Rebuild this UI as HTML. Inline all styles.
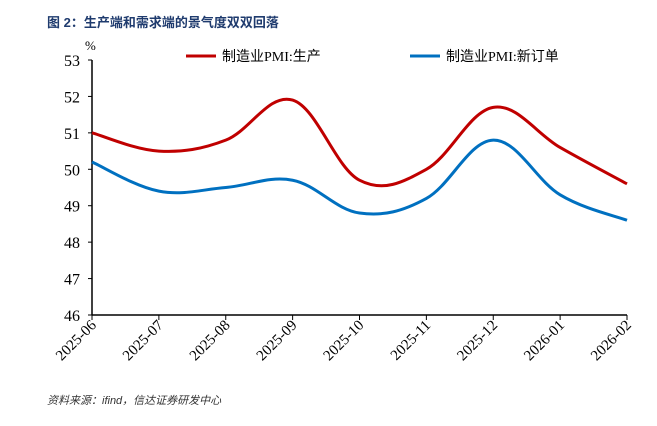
<!DOCTYPE html>
<html><head><meta charset="utf-8"><style>
body{margin:0;background:#fff;width:657px;height:421px;overflow:hidden;font-family:"Liberation Serif","Noto Serif CJK SC",serif}
</style></head><body>
<svg width="657" height="421">
<text x="47" y="27" font-family="'Liberation Sans','Noto Sans CJK SC',sans-serif" font-size="13" font-weight="bold" fill="#1f3b6e">图 2：生产端和需求端的景气度双双回落</text>
<text x="85" y="50" font-size="13" fill="#000">%</text>
<g id="axes"></g>
<g id="series"></g>
<g>
<line x1="186" y1="56" x2="216" y2="56" stroke="#c00000" stroke-width="3"/>
<text x="222" y="61" font-size="14" font-family="'Liberation Serif','Noto Sans CJK SC',serif">制造业PMI:生产</text>
<line x1="410" y1="56" x2="440" y2="56" stroke="#0070c0" stroke-width="3"/>
<text x="446" y="61" font-size="14" font-family="'Liberation Serif','Noto Sans CJK SC',serif">制造业PMI:新订单</text>
</g>
<text x="47" y="404" font-size="11" font-style="italic" font-family="'Liberation Sans','Noto Sans CJK SC',sans-serif" fill="#333">资料来源：ifind，信达证券研发中心</text>
</svg>
<script>
const categories=["2025-06","2025-07","2025-08","2025-09","2025-10","2025-11","2025-12","2026-01","2026-02"];
const production=[51.0,50.5,50.8,51.9,49.7,50.0,51.7,50.6,49.6];
const newOrders=[50.2,49.4,49.5,49.7,48.8,49.2,50.8,49.3,48.6];
const yTicks=[46,47,48,49,50,51,52,53];
const NS="http://www.w3.org/2000/svg";
const x0=92,x1=627,yTop=60,yBot=315;
const xs=i=>x0+(x1-x0)*i/(categories.length-1);
const ys=v=>yBot-(v-46)/(53-46)*(yBot-yTop);
function mk(t,a,p){const e=document.createElementNS(NS,t);for(const k in a)e.setAttribute(k,a[k]);p.appendChild(e);return e;}
const ax=document.getElementById('axes');
let l=mk('line',{x1:x0,y1:yTop,x2:x0,y2:yBot,stroke:'#000','stroke-width':1.5},ax);


l=mk('line',{x1:x0,y1:yBot,x2:x1,y2:yBot,stroke:'#000','stroke-width':1.5},ax);


yTicks.forEach(v=>{
 mk('line',{x1:x0-4,y1:ys(v),x2:x0,y2:ys(v),stroke:'#000'},ax);
 const t=mk('text',{x:x0-12,y:ys(v)+6,'text-anchor':'end','font-size':16},ax);t.textContent=v;
 
 
});
categories.forEach((c,i)=>{
 const x=xs(i);
 mk('line',{x1:x,y1:yBot,x2:x,y2:yBot+5,stroke:'#000'},ax);
 const t=mk('text',{x:x+5,y:yBot+11,'text-anchor':'end','font-size':15,transform:`rotate(-45 ${x+5} ${yBot+11})`},ax);t.textContent=c;
 
 
});
function path(vals){
 const p=vals.map((v,i)=>[xs(i),ys(v)]);
 let d=`M${p[0][0]},${p[0][1]}`;
 for(let i=0;i<p.length-1;i++){
  const a=p[Math.max(i-1,0)],b=p[i],c=p[i+1],e=p[Math.min(i+2,p.length-1)];
  const k=0.18;
  d+=` C${b[0]+(c[0]-a[0])*k},${b[1]+(c[1]-a[1])*k} ${c[0]-(e[0]-b[0])*k},${c[1]-(e[1]-b[1])*k} ${c[0]},${c[1]}`;
 }
 return d;
}
const sg=document.getElementById('series');
let s=mk('path',{d:path(production),fill:'none',stroke:'#c00000','stroke-width':3},sg);


s=mk('path',{d:path(newOrders),fill:'none',stroke:'#0070c0','stroke-width':3},sg);


</script>
</body></html>
